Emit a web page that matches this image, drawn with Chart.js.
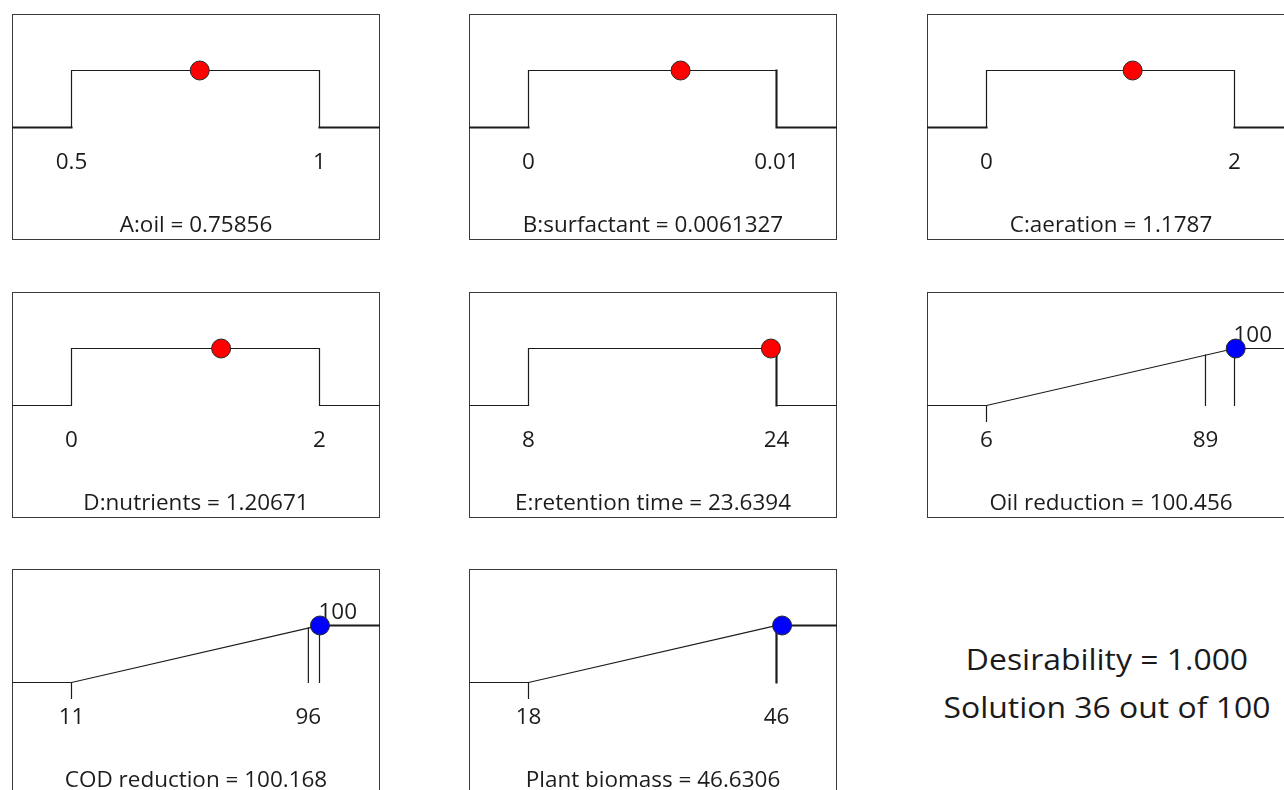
<!DOCTYPE html>
<html>
<head>
<meta charset="utf-8">
<title>Desirability ramps</title>
<script src="https://cdn.jsdelivr.net/npm/chart.js@4.4.1/dist/chart.umd.min.js"></script>
<style>
  html, body { margin: 0; padding: 0; background: #fff; overflow: hidden; }
  #fig { position: relative; width: 1284px; height: 790px; overflow: hidden; background: #fff; }
  .panel { position: absolute; }
  #summary {
    position: absolute; left: 907px; top: 634.75px; width: 400px;
    text-align: center; font-family: "Open Sans", sans-serif; font-size: 29px;
    line-height: 48px; color: #1a1a1a; white-space: nowrap;
    transform: scaleX(1.1); transform-origin: 50% 50%;
  }
</style>
</head>
<body>
<div id="fig">
  <div id="summary"><div id="desLine"></div><div id="solLine"></div></div>
</div>
<script>
// ---- Factor settings at the chosen solution ----
const factorNames = ['A:oil', 'B:surfactant', 'C:aeration', 'D:nutrients', 'E:retention time'];
const factorLow   = [0.5, 0, 0, 0, 8];
const factorHigh  = [1, 0.01, 2, 2, 24];
const factorValue = [0.75856, 0.0061327, 1.1787, 1.20671, 23.6394];

// ---- Responses (goal: maximize) ----
const responseNames       = ['Oil reduction', 'COD reduction', 'Plant biomass'];
const responseLower       = [6, 11, 18];
const responseUpper       = [100, 100, 46];
const responseObservedMax = [89, 96, 46];
const responseValue       = [100.456, 100.168, 46.6306];

// ---- Overall result ----
const overallDesirability = 1.000;
const solutionNumber = 36;
const solutionCount = 100;

// ---- Layout ----
const panelOrigins = [[12, 14], [469, 14], [927, 14], [12, 292], [469, 292], [927, 292], [12, 569], [469, 569]];
const PANEL_W = 368, PANEL_H = 226;
const LO_PX = 59.5, HI_PX = 307.5;        // where the low / high limits sit inside a panel
const ZERO_PX = 113.5, ONE_PX = 56.5;     // desirability 0 and 1 levels
const Y_PER = ZERO_PX - ONE_PX;
const Y_MAX = ZERO_PX / Y_PER;
const Y_MIN = Y_MAX - PANEL_H / Y_PER;
const TICK_LEN = 0.28;

// ---- Style ----
const INK = '#1c1c1c';
const FRAME = '#3a3a3a';
const THIN = 1.2, HEAVY = 2.1;
const heavySegments = [[0, 4], [0, 3, 4], [0, 4], [], [3], [], [2], [2]];
const heavyUpperStem = [false, false, true];

const fig = document.getElementById('fig');

// Labels, title and frame of each panel
const panelDecor = {
  id: 'panelDecor',
  beforeDatasetsDraw(chart, args, opts) {
    const ctx = chart.ctx, xs = chart.scales.x;
    ctx.save();
    ctx.strokeStyle = FRAME;
    ctx.lineWidth = 1;
    ctx.strokeRect(0.5, 0.5, PANEL_W - 1, PANEL_H - 1);
    ctx.fillStyle = INK;
    ctx.font = '21px "Open Sans"';
    ctx.textBaseline = 'alphabetic';
    const put = (text, px, py, align) => {
      ctx.save();
      ctx.translate(px, py);
      ctx.scale(1.07, 1);
      ctx.textAlign = align;
      ctx.fillText(text, 0, 0);
      ctx.restore();
    };
    (opts.below || []).forEach(v => put(String(v), xs.getPixelForValue(v), 155, 'center'));
    (opts.above || []).forEach(v => put(String(v), xs.getPixelForValue(v) - 1, 50, 'left'));
    put(opts.title, PANEL_W / 2, 218, 'center');
    ctx.restore();
  }
};

function lineSet(points, heavy, width) {
  return {
    data: points,
    borderColor: INK,
    borderWidth: width || THIN,
    borderCapStyle: 'square',
    pointRadius: 0,
    fill: false,
    tension: 0,
    order: 1,
    segment: heavy ? { borderWidth: c => heavy.includes(c.p0DataIndex) ? HEAVY : (width || THIN) } : undefined
  };
}

function dotSet(x, y, color) {
  return {
    data: [{ x, y }],
    showLine: false,
    pointRadius: 9.5,
    pointBackgroundColor: color,
    pointBorderColor: '#2a2a2a',
    pointBorderWidth: 1,
    order: 0
  };
}

function makePanel(index, lo, hi, datasets, decor) {
  const canvas = document.createElement('canvas');
  canvas.width = PANEL_W;
  canvas.height = PANEL_H;
  canvas.className = 'panel';
  canvas.style.left = panelOrigins[index][0] + 'px';
  canvas.style.top = panelOrigins[index][1] + 'px';
  canvas.style.width = PANEL_W + 'px';
  canvas.style.height = PANEL_H + 'px';
  fig.appendChild(canvas);
  const perPx = (hi - lo) / (HI_PX - LO_PX);
  new Chart(canvas, {
    type: 'line',
    data: { datasets },
    options: {
      responsive: false,
      animation: false,
      events: [],
      layout: { padding: 0, autoPadding: false },
      scales: {
        x: { type: 'linear', display: false, min: lo - LO_PX * perPx, max: lo + (PANEL_W - LO_PX) * perPx },
        y: { type: 'linear', display: false, min: Y_MIN, max: Y_MAX }
      },
      plugins: { legend: { display: false }, tooltip: { enabled: false }, panelDecor: decor }
    },
    plugins: [panelDecor]
  });
}

// Factor panels: step ramp, desirability 1 inside the allowed range
factorNames.forEach((name, i) => {
  const lo = factorLow[i], hi = factorHigh[i];
  const perPx = (hi - lo) / (HI_PX - LO_PX);
  const xa = lo - LO_PX * perPx, xb = lo + (PANEL_W - LO_PX) * perPx;
  const steps = [
    { x: xa, y: 0 }, { x: lo, y: 0 }, { x: lo, y: 1 },
    { x: hi, y: 1 }, { x: hi, y: 0 }, { x: xb, y: 0 }
  ];
  const v = factorValue[i];
  const d = (v >= lo && v <= hi) ? 1 : 0;
  makePanel(i, lo, hi,
    [dotSet(v, d, '#ff0000'), lineSet(steps, heavySegments[i])],
    { title: name + ' = ' + v, below: [lo, hi], above: [] });
});

// Response panels: linear ramp from the lower to the upper limit
responseNames.forEach((name, j) => {
  const idx = factorNames.length + j;
  const lo = responseLower[j], hi = responseUpper[j], mx = responseObservedMax[j];
  const perPx = (hi - lo) / (HI_PX - LO_PX);
  const xa = lo - LO_PX * perPx, xb = lo + (PANEL_W - LO_PX) * perPx;
  const desir = v => Math.max(0, Math.min(1, (v - lo) / (hi - lo)));
  const ramp = [{ x: xa, y: 0 }, { x: lo, y: 0 }, { x: hi, y: 1 }, { x: xb, y: 1 }];
  const v = responseValue[j];
  const sets = [
    dotSet(v, desir(v), '#0000ff'),
    lineSet(ramp, heavySegments[idx]),
    lineSet([{ x: lo, y: 0 }, { x: lo, y: -TICK_LEN }]),
    lineSet([{ x: mx, y: desir(mx) }, { x: mx, y: 0 }]),
    lineSet([{ x: hi, y: 1 }, { x: hi, y: 0 }], null, heavyUpperStem[j] ? HEAVY : THIN)
  ];
  makePanel(idx, lo, hi, sets, {
    title: name + ' = ' + v,
    below: [lo, mx],
    above: hi !== mx ? [hi] : []
  });
});

document.getElementById('desLine').textContent = 'Desirability = ' + overallDesirability.toFixed(3);
document.getElementById('solLine').textContent = 'Solution ' + solutionNumber + ' out of ' + solutionCount;
</script>
</body>
</html>
